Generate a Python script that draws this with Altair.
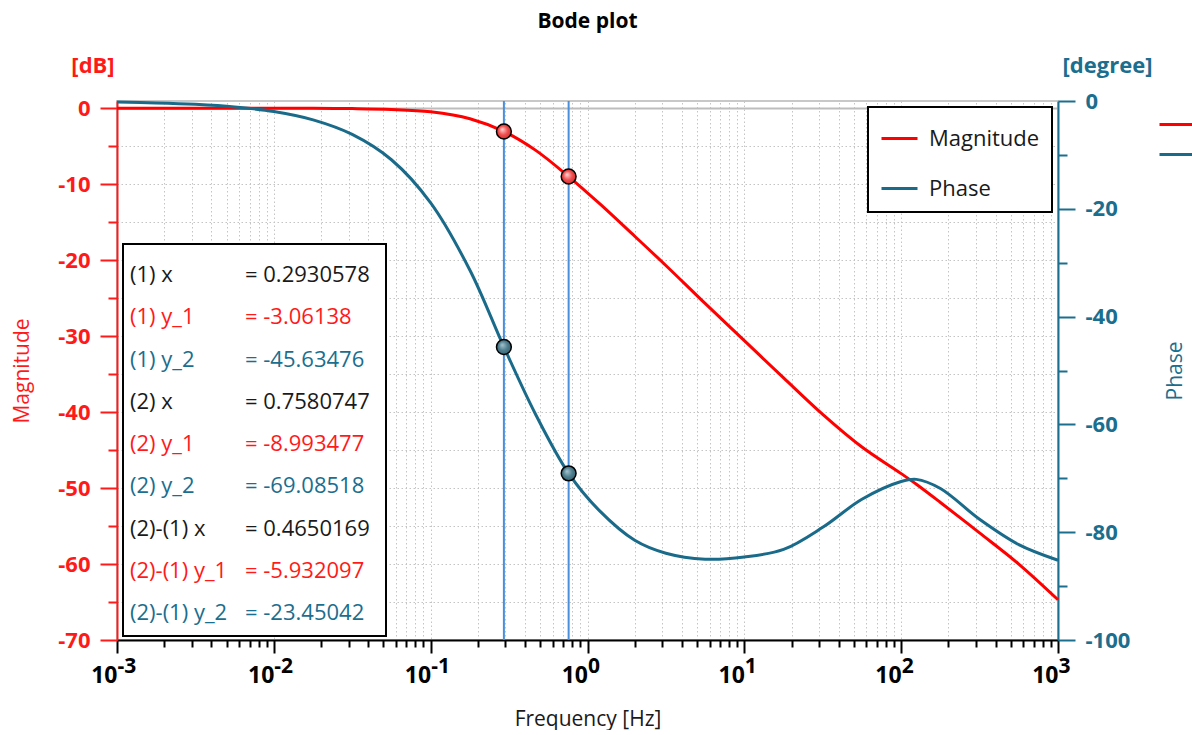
import altair as alt
import pandas as pd

# ---- shared frequency grid (Hz) ----
freq = [0.001, 0.00178, 0.00316, 0.00562, 0.01, 0.0178, 0.0316, 0.0562, 0.1, 0.178,
        0.2930578, 0.468, 0.7580747, 1.2, 2.0, 3.16, 5.62, 10.0, 17.8, 31.6, 56.2,
        100.0, 125.0, 178.0, 316.0, 562.0, 1000.0]

# ---- magnitude response (dB) ----
mag_db = [0.0, 0.0, 0.0, 0.0, -0.01, -0.02, -0.05, -0.16, -0.48, -1.38,
          -3.06138, -5.55, -8.993477, -12.6, -16.85, -20.7, -25.7, -30.6, -35.5, -40.3, -44.6,
          -48.1, -49.5, -51.9, -55.9, -60.0, -64.7]

# ---- phase response (degree) ----
phase_deg = [-0.2, -0.35, -0.62, -1.1, -1.95, -3.5, -6.2, -10.9, -18.9, -31.4,
             -45.63476, -58.2, -69.08518, -76.1, -81.5, -83.9, -85.0, -84.6, -83.2, -79.1, -73.9,
             -70.6, -70.2, -71.9, -77.6, -82.3, -85.2]

# ---- cursor readouts ----
cursor_freq = [0.2930578, 0.7580747]
cursor_mag = [-3.06138, -8.993477]
cursor_phase = [-45.63476, -69.08518]

series_names = ["Magnitude", "Phase"]
series_colors = ["#ff0000", "#1a6a8a"]
RED = "#ff1a1a"
TEAL = "#1b6e8e"
INK = "#1a1a1a"
FONT = "Open Sans"

decade_ticks = [0.001, 0.01, 0.1, 1.0, 10.0, 100.0, 1000.0]
minor_ticks = [m * d for d in decade_ticks[:-1] for m in range(2, 10)]
mag_major = [0, -10, -20, -30, -40, -50, -60, -70]
mag_minor = [-5, -15, -25, -35, -45, -55, -65]
ph_major = [0, -20, -40, -60, -80, -100]
ph_minor = [-10, -30, -50, -70, -90]

GRID = dict(grid=True, gridColor="#c4c4c4", gridDash=[1.5, 2.5], gridWidth=1)

mag_df = pd.DataFrame({"freq": freq, "value": mag_db, "series": "Magnitude"})
ph_df = pd.DataFrame({"freq": freq, "value": phase_deg, "series": "Phase"})
cur_mag_df = pd.DataFrame({"freq": cursor_freq, "value": cursor_mag})
cur_ph_df = pd.DataFrame({"freq": cursor_freq, "value": cursor_phase})


def fmt(v):
    return f"{v:.7g}"


# readout table: labels, values and their colours
d_x = cursor_freq[1] - cursor_freq[0]
d_m = cursor_mag[1] - cursor_mag[0]
d_p = cursor_phase[1] - cursor_phase[0]
readout = pd.DataFrame({
    "row": list(range(9)),
    "label": ["(1) x", "(1) y_1", "(1) y_2", "(2) x", "(2) y_1", "(2) y_2",
              "(2)-(1) x", "(2)-(1) y_1", "(2)-(1) y_2"],
    "value": ["= " + fmt(v) for v in [cursor_freq[0], cursor_mag[0], cursor_phase[0],
                                      cursor_freq[1], cursor_mag[1], cursor_phase[1],
                                      d_x, d_m, d_p]],
    "tone": [INK, RED, TEAL] * 3,
})

x_scale = alt.Scale(type="log", domain=[0.001, 1000], nice=False)
mag_scale = alt.Scale(domain=[-70, 0.95], nice=False, zero=False)
ph_scale = alt.Scale(domain=[-100, 0], nice=False, zero=False)
color_scale = alt.Scale(domain=series_names, range=series_colors)

x_major_axis = alt.Axis(
    orient="bottom", values=decade_ticks, labelExpr="'10'", labelAlign="right",
    labelBaseline="alphabetic", labelPadding=29, labelFontSize=23, labelFontWeight="bold",
    labelColor="black", labelFont=FONT, labelFlush=False, labelOverlap=False,
    tickSize=13, tickWidth=2, tickColor="black", domainColor="black", domainWidth=2,
    title="Frequency [Hz]", titleX=470.5, titleY=85, titleBaseline="alphabetic",
    titleAlign="center", titleFontSize=21, titleFontWeight="normal", titleColor=INK,
    titleFont=FONT, **GRID)
x_minor_axis = alt.Axis(
    orient="bottom", values=minor_ticks, labels=False, tickSize=7, tickWidth=2,
    tickColor="black", domain=False, title=None, **GRID)
x_exp_axis = alt.Axis(
    orient="bottom", values=decade_ticks,
    labelExpr="'' + round(log(datum.value) / LN10)", labelAlign="left",
    labelBaseline="alphabetic", labelPadding=19, labelFontSize=21, labelFontWeight="bold",
    labelColor="black", labelFont=FONT, labelFlush=False, labelOverlap=False,
    tickSize=13, tickColor="transparent", domain=False, grid=False, title=None)

mag_major_axis = alt.Axis(
    orient="left", values=mag_major, labelExpr="'' + datum.value", labelFontSize=22,
    labelFontWeight="bold", labelColor=RED, labelFont=FONT, labelPadding=10,
    labelOverlap=False, tickSize=17, tickWidth=2, tickColor=RED, domainColor=RED,
    domainWidth=2, grid=True,
    gridColor={"condition": {"test": "datum.value === 0", "value": "#bdbdbd"}, "value": "#c4c4c4"},
    gridDash={"condition": {"test": "datum.value === 0", "value": [1, 0]}, "value": [1.5, 2.5]},
    gridWidth={"condition": {"test": "datum.value === 0", "value": 2}, "value": 1},
    title="Magnitude", titleColor=RED, titleFontSize=21, titleFontWeight="normal",
    titleFont=FONT, titleX=-95, titleY=269.5, titleAngle=270, titleAlign="center",
    titleBaseline="middle")
mag_minor_axis = alt.Axis(
    orient="left", values=mag_minor, labels=False, tickSize=9, tickWidth=2, tickColor=RED,
    domain=False, title="[dB]", titleAngle=0, titleX=-24.5, titleY=-36, titleAlign="center",
    titleBaseline="middle", titleColor=RED, titleFontSize=22, titleFontWeight="bold",
    titleFont=FONT, **GRID)

ph_major_axis = alt.Axis(
    orient="right", values=ph_major, labelExpr="'' + datum.value", labelFontSize=22,
    labelFontWeight="bold", labelColor=TEAL, labelFont=FONT, labelPadding=10,
    labelOverlap=False, tickSize=17, tickWidth=2, tickColor=TEAL, domainColor=TEAL,
    domainWidth=2, grid=False, title="Phase", titleColor=TEAL, titleFontSize=21,
    titleFontWeight="normal", titleFont=FONT, titleX=117, titleY=269.5, titleAngle=270,
    titleAlign="center", titleBaseline="middle")
ph_minor_axis = alt.Axis(
    orient="right", values=ph_minor, labels=False, tickSize=9, tickWidth=2, tickColor=TEAL,
    domain=False, grid=False, title="[degree]", titleAngle=0, titleX=49, titleY=-36,
    titleAlign="center", titleBaseline="middle", titleColor=TEAL, titleFontSize=22,
    titleFontWeight="bold", titleFont=FONT)

boxed_legend = alt.Legend(
    title=None, orient="top-right", offset=6, fillColor="white", strokeColor="black",
    padding=12, symbolType="stroke", symbolSize=1296, symbolStrokeWidth=3,
    labelFontSize=22, labelFont=FONT, labelColor=INK, labelOffset=10, rowPadding=19)
edge_legend = alt.Legend(
    title=None, orient="none", legendX=1041, legendY=5, padding=0,
    symbolType="stroke", symbolSize=1156, symbolStrokeWidth=3,
    labelFontSize=22, labelFont=FONT, labelColor=INK, labelOffset=10, rowPadding=-5)

red_ball = alt.RadialGradient(
    gradient="radial", x1=0.38, y1=0.35, r1=0, x2=0.5, y2=0.5, r2=0.55,
    stops=[alt.GradientStop(color="#ffd6d6", offset=0),
           alt.GradientStop(color="#f05050", offset=0.55),
           alt.GradientStop(color="#d42a2a", offset=1)])
teal_ball = alt.RadialGradient(
    gradient="radial", x1=0.38, y1=0.35, r1=0, x2=0.5, y2=0.5, r2=0.55,
    stops=[alt.GradientStop(color="#a9c6d0", offset=0),
           alt.GradientStop(color="#4f7f8f", offset=0.55),
           alt.GradientStop(color="#35606f", offset=1)])

# magnitude side: curve, cursor lines, markers
mag_line = alt.Chart(mag_df).mark_line(strokeWidth=3, interpolate="catmull-rom").encode(
    x=alt.X("freq:Q", scale=x_scale, axis=x_major_axis),
    y=alt.Y("value:Q", scale=mag_scale, axis=mag_major_axis),
    color=alt.Color("series:N", scale=color_scale, legend=boxed_legend),
)
cursor_rules = alt.Chart(cur_mag_df).mark_rule(color="#4a8fdc", strokeWidth=2).encode(
    x=alt.X("freq:Q", scale=x_scale, axis=x_minor_axis),
)
mag_points = alt.Chart(cur_mag_df).mark_circle(
    size=220, fill=red_ball, stroke="black", strokeWidth=1.5, opacity=1).encode(
    x=alt.X("freq:Q", scale=x_scale, axis=x_exp_axis),
    y=alt.Y("value:Q", scale=mag_scale, axis=mag_minor_axis),
)
mag_group = alt.layer(mag_line, cursor_rules, mag_points).resolve_axis(
    x="independent", y="independent")

# phase side
ph_line = alt.Chart(ph_df).mark_line(strokeWidth=3, interpolate="catmull-rom").encode(
    x=alt.X("freq:Q", scale=x_scale, axis=None),
    y=alt.Y("value:Q", scale=ph_scale, axis=ph_major_axis),
    stroke=alt.Stroke("series:N", scale=color_scale, legend=edge_legend),
)
ph_points = alt.Chart(cur_ph_df).mark_circle(
    size=220, fill=teal_ball, stroke="black", strokeWidth=1.5, opacity=1).encode(
    x=alt.X("freq:Q", scale=x_scale, axis=None),
    y=alt.Y("value:Q", scale=ph_scale, axis=ph_minor_axis),
)
ph_group = alt.layer(ph_line, ph_points).resolve_axis(y="independent")

# cursor readout box
box = alt.Chart(pd.DataFrame({"k": [0]})).mark_rect(
    fill="white", stroke="black", strokeWidth=2).encode(
    x=alt.value(6), x2=alt.value(269), y=alt.value(143), y2=alt.value(535))
row_scale = alt.Scale(domain=[0, 8], range=[174, 512])
labels = alt.Chart(readout).mark_text(
    align="left", baseline="middle", fontSize=22, font=FONT).encode(
    x=alt.value(13), y=alt.Y("row:Q", scale=row_scale, axis=None),
    text="label:N", fill=alt.Fill("tone:N", scale=None))
values = alt.Chart(readout).mark_text(
    align="left", baseline="middle", fontSize=22, font=FONT).encode(
    x=alt.value(128), y=alt.Y("row:Q", scale=row_scale, axis=None),
    text="value:N", fill=alt.Fill("tone:N", scale=None))
readout_group = alt.layer(box, labels, values)

chart = alt.layer(mag_group, ph_group, readout_group).resolve_scale(
    y="independent").resolve_axis(x="independent", y="independent").properties(
    width=941, height=539,
    autosize=alt.AutoSizeParams(type="none"),
    padding={"left": 117, "top": 101, "right": 134, "bottom": 90},
    title=alt.Title("Bode plot", fontSize=21, fontWeight="bold", font=FONT, color="black",
                    anchor="middle", frame="group", offset=22),
).configure_view(stroke="#c8c8c8", strokeWidth=2).configure_legend(strokeWidth=2)

chart.save("out.html", embed_options={"renderer": "svg", "actions": False})
